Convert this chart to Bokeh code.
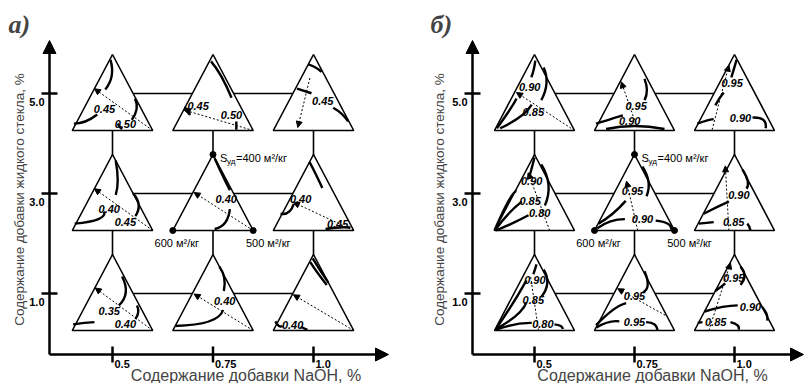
import numpy as np
from bokeh.plotting import figure
from bokeh.models import Arrow, NormalHead, ColumnDataSource, Range1d, Label
from bokeh.layouts import row
from bokeh.embed import file_html
from bokeh.resources import INLINE
from bokeh.core.properties import value

# ---------------- data ----------------
naoh = [0.5, 0.75, 1.0]
naoh_labels = ["0.5", "0.75", "1.0"]
glass = [1.0, 3.0, 5.0]
glass_labels = ["1.0", "3.0", "5.0"]

x_title = "Содержание добавки NaOH, %"
y_title = "Содержание добавки жидкого стекла, %"
panel_tags = ["а)", "б)"]
apex_label = "=400 м²/кг"
base_labels = ["600 м²/кг", "500 м²/кг"]

# contour curves inside each triangle, in local triangle coords (u across, v up)
curves_a = {
    (0.5, 5.0): [[(-0.05, 0.93), (-0.02, 0.72), (-0.18, 0.54)],
                 [(-0.96, 0.09), (-0.67, 0.12), (-0.38, 0.21)],
                 [(0.56, 0.42), (0.6, 0.28), (0.48, 0.14)],
                 [(0.24, 0.02), (0.18, 0.05), (0.13, 0.09)]],
    (0.75, 5.0): [[(-0.05, 0.91), (0.21, 0.71), (0.46, 0.43)],
                  [(-0.72, 0.3), (-0.62, 0.27), (-0.58, 0.2)],
                  [(0.58, 0.12), (0.58, 0.07), (0.58, 0.01)]],
    (1.0, 5.0): [[(-0.13, 0.87), (0.05, 0.83), (0.2, 0.77)],
                 [(-0.41, 0.55), (-0.23, 0.52), (-0.05, 0.49)],
                 [(0.49, 0.3), (0.7, 0.22), (0.86, 0.12)]],
    (0.5, 3.0): [[(0.08, 0.92), (0.13, 0.66), (0.08, 0.47)],
                 [(-0.94, 0.09), (-0.35, 0.15), (-0.21, 0.25)],
                 [(0.51, 0.49), (0.65, 0.34), (0.57, 0.19)]],
    (0.75, 3.0): [[(0.04, 0.95), (0.26, 0.7), (0.42, 0.53)],
                  [(0.42, 0.28), (0.3, 0.1), (0.04, 0.02)]],
    (1.0, 3.0): [[(-0.1, 0.9), (0.02, 0.78), (0.22, 0.56)],
                 [(-0.82, 0.22), (-0.62, 0.24), (-0.49, 0.35)],
                 [(0.3, 0.02), (0.6, 0.04), (0.92, 0.04)]],
    (0.5, 1.0): [[(0.24, 0.71), (0.33, 0.5), (0.16, 0.33)],
                 [(0.61, 0.33), (0.64, 0.24), (0.57, 0.15)],
                 [(-0.98, 0.08), (-0.7, 0.1), (-0.45, 0.11)]],
    (0.75, 1.0): [[(0.16, 0.84), (0.28, 0.69), (0.27, 0.52)],
                  [(-0.94, 0.06), (-0.1, 0.12), (0.25, 0.27)]],
    (1.0, 1.0): [[(-0.08, 0.9), (0.1, 0.76), (0.33, 0.6)],
                 [(-0.02, 0.95), (0.18, 0.78), (0.37, 0.63)],
                 [(-0.95, 0.12), (-0.86, 0.06), (-0.77, 0.06)],
                 [(-0.32, 0.05), (-0.24, 0.03), (-0.15, 0.01)]],
}
labels_a = {
    (0.5, 5.0): [("0.45", -0.2, 0.28), ("0.50", 0.32, 0.09)],
    (0.75, 5.0): [("0.45", -0.37, 0.32), ("0.50", 0.46, 0.2)],
    (1.0, 5.0): [("0.45", 0.23, 0.39)],
    (0.5, 3.0): [("0.40", -0.08, 0.28), ("0.45", 0.32, 0.11)],
    (0.75, 3.0): [("0.40", 0.33, 0.42)],
    (1.0, 3.0): [("0.40", -0.32, 0.42), ("0.45", 0.6, 0.08)],
    (0.5, 1.0): [("0.35", -0.08, 0.26), ("0.40", 0.32, 0.08)],
    (0.75, 1.0): [("0.40", 0.29, 0.39)],
    (1.0, 1.0): [("0.40", -0.52, 0.07)],
}
arrows_a = {
    (0.5, 5.0): [(1, 0, -0.45, 0.55)],
    (0.75, 5.0): [(1, 0, -0.72, 0.27)],
    (1.0, 5.0): [(-0.09, 0.69, -0.39, 0.04)],
    (0.5, 3.0): [(1, 0, -0.45, 0.55)],
    (0.75, 3.0): [(1, 0, -0.47, 0.5)],
    (1.0, 3.0): [(1, 0, -0.5, 0.37)],
    (0.5, 1.0): [(1, 0, -0.43, 0.56)],
    (0.75, 1.0): [(1, 0, -0.47, 0.48)],
    (1.0, 1.0): [(1, 0, -0.5, 0.47)],
}
dotted_a = {}

curves_b = {
    (0.5, 5.0): [[(0.02, 0.92), (-0.02, 0.8), (-0.08, 0.7)],
                 [(0.23, 0.83), (0.3, 0.62), (0.17, 0.4)],
                 [(-0.94, 0.03), (-0.62, 0.27), (-0.45, 0.42)],
                 [(-0.86, 0.03), (-0.36, 0.18), (-0.07, 0.34)]],
    (0.75, 5.0): [[(0.25, 0.68), (0.31, 0.53), (0.25, 0.4)],
                  [(-0.96, 0.09), (-0.54, 0.16), (-0.29, 0.2)],
                  [(-0.71, 0.02), (0.0, 0.06), (0.75, 0.02)]],
    (1.0, 5.0): [[(0.05, 0.93), (-0.02, 0.8), (-0.08, 0.7)],
                 [(-0.48, 0.33), (-0.38, 0.42), (-0.27, 0.5)],
                 [(-0.93, 0.09), (-0.7, 0.13), (-0.52, 0.15)],
                 [(0.45, 0.17), (0.72, 0.14), (0.78, 0.03)]],
    (0.5, 3.0): [[(0.0, 0.96), (-0.06, 0.84), (-0.12, 0.72)],
                 [(0.17, 0.87), (0.35, 0.6), (0.26, 0.33)],
                 [(-1.0, 0.0), (-0.65, 0.39), (-0.45, 0.52)],
                 [(-0.98, 0.01), (-0.65, 0.22), (-0.32, 0.38)],
                 [(-0.97, 0.0), (-0.57, 0.09), (-0.15, 0.2)]],
    (0.75, 3.0): [[(0.2, 0.84), (0.35, 0.64), (0.3, 0.45)],
                  [(-0.9, 0.09), (-0.55, 0.22), (-0.22, 0.39)],
                  [(-0.93, 0.03), (-0.6, 0.12), (-0.24, 0.15)],
                  [(0.53, 0.13), (0.83, 0.09), (0.92, 0.01)]],
    (1.0, 3.0): [[(0.2, 0.8), (0.33, 0.65), (0.3, 0.55)],
                 [(-0.77, 0.22), (-0.43, 0.31), (-0.14, 0.38)],
                 [(-0.89, 0.09), (-0.7, 0.1), (-0.52, 0.11)],
                 [(0.32, 0.09), (0.37, 0.05), (0.4, 0.0)]],
    (0.5, 1.0): [[(0.05, 0.87), (0.01, 0.8), (-0.03, 0.74)],
                 [(0.23, 0.8), (0.32, 0.62), (0.17, 0.44)],
                 [(-0.94, 0.04), (-0.55, 0.35), (-0.2, 0.66)],
                 [(-0.96, 0.02), (-0.45, 0.2), (-0.2, 0.37)],
                 [(-0.96, 0.01), (-0.5, 0.08), (-0.07, 0.1)],
                 [(0.5, 0.08), (0.65, 0.06), (0.71, 0.02)]],
    (0.75, 1.0): [[(0.25, 0.78), (0.33, 0.6), (0.21, 0.5)],
                  [(-0.96, 0.07), (-0.54, 0.27), (-0.21, 0.36)],
                  [(-0.95, 0.04), (-0.65, 0.11), (-0.38, 0.12)],
                  [(0.29, 0.11), (0.5, 0.08), (0.58, 0.0)]],
    (1.0, 1.0): [[(0.15, 0.84), (0.25, 0.72), (0.15, 0.6)],
                 [(-0.48, 0.52), (-0.35, 0.57), (-0.23, 0.62)],
                 [(-0.75, 0.25), (-0.3, 0.31), (0.08, 0.33)],
                 [(0.69, 0.31), (0.8, 0.22), (0.82, 0.13)],
                 [(-0.92, 0.1), (-0.86, 0.105), (-0.8, 0.11)],
                 [(-0.1, 0.11), (0.07, 0.07), (0.11, 0.01)]],
}
labels_b = {
    (0.5, 5.0): [("0.90", -0.12, 0.57), ("0.85", -0.03, 0.25)],
    (0.75, 5.0): [("0.95", 0.04, 0.32), ("0.90", -0.12, 0.13)],
    (1.0, 5.0): [("0.95", -0.06, 0.62), ("0.90", 0.15, 0.17)],
    (0.5, 3.0): [("0.90", -0.07, 0.65), ("0.85", -0.11, 0.39), ("0.80", 0.13, 0.23)],
    (0.75, 3.0): [("0.95", -0.05, 0.52), ("0.90", 0.2, 0.15)],
    (1.0, 3.0): [("0.90", 0.11, 0.47), ("0.85", -0.02, 0.11)],
    (0.5, 1.0): [("0.90", 0.01, 0.67), ("0.85", -0.03, 0.4), ("0.80", 0.21, 0.08)],
    (0.75, 1.0): [("0.95", 0.0, 0.45), ("0.95", 0.0, 0.11)],
    (1.0, 1.0): [("0.95", -0.02, 0.69), ("0.90", 0.4, 0.31), ("0.85", -0.47, 0.11)],
}
arrows_b = {
    (0.5, 5.0): [(1, 0, -0.45, 0.5)],
    (0.75, 5.0): [(0.0, 0.14, -0.33, 0.64)],
    (1.0, 5.0): [(-0.56, 0.01, -0.14, 0.86)],
    (0.5, 3.0): [(0.38, 0.0, -0.16, 0.76)],
    (0.75, 3.0): [(0.08, 0.0, -0.2, 0.65)],
    (1.0, 3.0): [(-0.14, 0.0, -0.23, 0.85)],
    (0.75, 1.0): [(0.77, 0.2, -0.42, 0.55)],
    (1.0, 1.0): [(-0.64, 0.0, -0.1, 0.89)],
}
dotted_b = {(0.5, 1.0): [(0.1, 0.0, -0.1, 0.72)]}

# ---------------- layout / style ----------------
HW, UP, DN = 0.1, 0.78, 0.74
HT = UP + DN
FONT = "Liberation Sans"
HEIGHT = 383
Y_RANGE = (-0.8, 6.86)
AXIS_Y, Y_TIP = -0.22, 6.06


def loc(n, g, u, v):
    return n + u * HW, g - DN + v * HT


def panel(width, x_range, axis_x, x_tip, curves, labels, arrows, dotted, tag, tag_x, ytitle_x, xtitle_x):
    p = figure(width=width, height=HEIGHT, x_range=Range1d(*x_range), y_range=Range1d(*Y_RANGE),
               output_backend="svg", toolbar_location=None, min_border=0,
               x_axis_type=None, y_axis_type=None)
    p.grid.grid_line_color = None
    p.outline_line_color = None
    p.background_fill_color = "white"
    p.border_fill_color = "white"

    # connectors
    xs = [[naoh[0], naoh[-1]] for g in glass] + [[n, n] for n in naoh]
    ys = [[g, g] for g in glass] + [[glass[0], glass[-1]] for n in naoh]
    p.multi_line(xs, ys, line_color="black", line_width=1.6)

    # triangles
    txs, tys = [], []
    for n in naoh:
        for g in glass:
            txs.append([n - HW, n + HW, n])
            tys.append([g - DN, g - DN, g + UP])
    p.patches(txs, tys, fill_color="white", line_color="black", line_width=1.6)

    # contour curves
    q = dict(x0=[], y0=[], x1=[], y1=[], cx=[], cy=[])
    for (n, g), cl in curves.items():
        for c in cl:
            s, m, e = c
            sx, sy = loc(n, g, *s)
            mx, my = loc(n, g, *m)
            ex, ey = loc(n, g, *e)
            q["x0"].append(sx); q["y0"].append(sy)
            q["x1"].append(ex); q["y1"].append(ey)
            q["cx"].append(2 * mx - (sx + ex) / 2); q["cy"].append(2 * my - (sy + ey) / 2)
    p.quadratic(x0="x0", y0="y0", x1="x1", y1="y1", cx="cx", cy="cy",
                source=ColumnDataSource(q), line_color="black", line_width=2.4)

    # dotted arrows
    a = dict(x0=[], y0=[], x1=[], y1=[])
    for (n, g), al in arrows.items():
        for (u0, v0, u1, v1) in al:
            x0, y0 = loc(n, g, u0, v0)
            x1, y1 = loc(n, g, u1, v1)
            a["x0"].append(x0); a["y0"].append(y0); a["x1"].append(x1); a["y1"].append(y1)
    p.add_layout(Arrow(end=NormalHead(size=6, fill_color="black", line_color="black", line_width=1),
                       source=ColumnDataSource(a), x_start="x0", y_start="y0", x_end="x1", y_end="y1",
                       line_dash="2 2", line_width=1, line_color="black"))
    d = dict(x0=[], y0=[], x1=[], y1=[])
    for (n, g), dl in dotted.items():
        for (u0, v0, u1, v1) in dl:
            x0, y0 = loc(n, g, u0, v0)
            x1, y1 = loc(n, g, u1, v1)
            d["x0"].append(x0); d["y0"].append(y0); d["x1"].append(x1); d["y1"].append(y1)
    if d["x0"]:
        p.segment(x0="x0", y0="y0", x1="x1", y1="y1", source=ColumnDataSource(d),
                  line_dash="2 2", line_width=1, line_color="black")

    # contour labels
    lt = dict(x=[], y=[], t=[])
    for (n, g), ll in labels.items():
        for (t, u, v) in ll:
            x, y = loc(n, g, u, v)
            lt["x"].append(x); lt["y"].append(y); lt["t"].append(t)
    p.text(x="x", y="y", text="t", source=ColumnDataSource(lt), text_font=value(FONT),
           text_font_size="11px", text_font_style="bold italic", text_align="center",
           text_baseline="middle", text_color="black")

    # reference points of the middle triangle
    apx, apy = loc(0.75, 3.0, 0, 1)
    lx, ly = loc(0.75, 3.0, -1, 0)
    rx, ry = loc(0.75, 3.0, 1, 0)
    p.scatter([lx, rx, apx], [ly, ry, apy], size=6, color="black")
    p.text(x=[apx], y=[apy], text=["S"], x_offset=7, y_offset=3, text_font=value(FONT),
           text_font_size="11px", text_baseline="middle")
    p.text(x=[apx], y=[apy], text=["уд"], x_offset=14, y_offset=7, text_font=value(FONT),
           text_font_size="8px", text_baseline="middle")
    p.text(x=[apx], y=[apy], text=[apex_label], x_offset=23, y_offset=3, text_font=value(FONT),
           text_font_size="11px", text_baseline="middle")
    p.text(x=[lx], y=[ly], text=[base_labels[0]], x_offset=4, y_offset=12, text_font=value(FONT),
           text_font_size="11px", text_baseline="middle", text_align="center")
    p.text(x=[rx], y=[ry], text=[base_labels[1]], x_offset=15, y_offset=12, text_font=value(FONT),
           text_font_size="11px", text_baseline="middle", text_align="center")

    # axes
    p.add_layout(Arrow(end=NormalHead(size=13, fill_color="black", line_color="black"),
                       x_start=axis_x, y_start=AXIS_Y, x_end=axis_x, y_end=Y_TIP,
                       line_width=2.5, line_color="black"))
    p.add_layout(Arrow(end=NormalHead(size=13, fill_color="black", line_color="black"),
                       x_start=axis_x, y_start=AXIS_Y, x_end=x_tip, y_end=AXIS_Y,
                       line_width=2.5, line_color="black"))
    p.scatter(x=[axis_x] * len(glass), y=glass, marker="dash", size=16, line_width=2.5, color="black")
    p.scatter(x=naoh, y=[AXIS_Y] * len(naoh), marker="dash", angle=np.pi / 2, size=16,
              line_width=2.5, color="black")
    p.text(x=[axis_x] * len(glass), y=glass, text=glass_labels, x_offset=-5, y_offset=8,
           text_align="right", text_baseline="middle", text_font=value(FONT),
           text_font_size="11px", text_font_style="bold")
    p.text(x=naoh, y=[AXIS_Y] * len(naoh), text=naoh_labels, x_offset=2, y_offset=9,
           text_align="left", text_baseline="middle", text_font=value(FONT),
           text_font_size="11px", text_font_style="bold")

    # titles
    p.add_layout(Label(x=tag_x, y=HEIGHT - 9, x_units="screen", y_units="screen", text=tag,
                       text_font="Liberation Serif", text_font_size="26px",
                       text_font_style="bold italic", text_baseline="top"))
    p.add_layout(Label(x=ytitle_x, y=HEIGHT - 199, x_units="screen", y_units="screen", text=y_title,
                       angle=np.pi / 2, text_font=FONT, text_font_size="13.5px",
                       text_align="center", text_baseline="middle"))
    p.add_layout(Label(x=xtitle_x, y=0, x_units="screen", y_units="screen", text=x_title,
                       text_font=FONT, text_font_size="16px", text_align="center",
                       text_baseline="bottom"))
    return p


pa = panel(404, (0.5 - 112 / 402, 0.5 + 292 / 402), 0.3433, 1.1866,
           curves_a, labels_a, arrows_a, dotted_a, panel_tags[0], 8, 18.5, 245.5)
pb = panel(401, (0.5 - 130 / 400, 0.5 + 271 / 400), 0.345, 1.1725,
           curves_b, labels_b, arrows_b, dotted_b, panel_tags[1], 26, 35, 248)

layout = row(pa, pb)
open("out.html", "w").write(file_html(layout, INLINE))
